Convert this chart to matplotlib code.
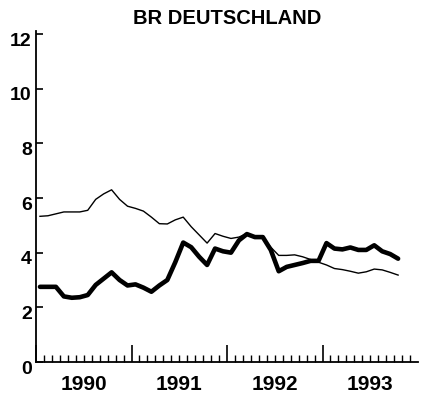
import numpy as np
import matplotlib
matplotlib.use('Agg')
import matplotlib.pyplot as plt
import matplotlib.transforms as mtransforms

# monthly values, Jan 1990 .. Oct 1993
start_year = 1990
years = [1990, 1991, 1992, 1993]
yticks = [0, 2, 4, 6, 8, 10, 12]
title = 'BR DEUTSCHLAND'

thin_series = [5.33, 5.35, 5.42, 5.49, 5.49, 5.49, 5.55, 5.95, 6.15, 6.30, 5.95, 5.70,
               5.62, 5.52, 5.30, 5.06, 5.05, 5.20, 5.30, 4.95, 4.65, 4.35, 4.70, 4.60,
               4.52, 4.57, 4.70, 4.60, 4.55, 4.20, 3.90, 3.90, 3.92, 3.85, 3.75, 3.65,
               3.55, 3.42, 3.38, 3.32, 3.25, 3.30, 3.40, 3.37, 3.28, 3.18]
thick_series = [2.75, 2.75, 2.75, 2.40, 2.35, 2.37, 2.45, 2.82, 3.05, 3.28, 3.00, 2.80,
                2.84, 2.72, 2.57, 2.80, 3.00, 3.65, 4.37, 4.20, 3.85, 3.55, 4.15, 4.05,
                4.00, 4.45, 4.68, 4.57, 4.57, 4.10, 3.32, 3.48, 3.55, 3.62, 3.70, 3.70,
                4.35, 4.15, 4.12, 4.19, 4.10, 4.10, 4.27, 4.05, 3.95, 3.78]

FONT = ['Liberation Sans Narrow', 'Liberation Sans', 'DejaVu Sans']
plt.rcParams['font.family'] = FONT
plt.rcParams['font.weight'] = 'bold'


def main():
    fig = plt.figure(figsize=(4.3, 4.05), dpi=100)
    W, H = 430, 405
    ax = fig.add_axes([36 / W, (H - 362) / H, (418 - 36) / W, (362 - 34) / H])

    x = start_year + (np.arange(len(thin_series)) + 0.5) / 12.0
    ax.plot(x, thin_series, color='black', lw=1.0, solid_joinstyle='round')
    ax.plot(x, thick_series, color='black', lw=3.3, solid_joinstyle='round',
            solid_capstyle='round')

    ax.set_xlim(1990, 1994)
    ax.set_ylim(0, 12)
    for s in ['top', 'right']:
        ax.spines[s].set_visible(False)
    ax.spines['left'].set_bounds(0, 12.1)
    for s in ['left', 'bottom']:
        ax.spines[s].set_linewidth(1.3)

    # x ticks: year boundaries tall, months short, labels at mid year
    ax.set_xticks(years)
    ax.set_xticklabels([])
    ax.set_xticks(np.arange(1990, 1994, 1 / 12.0), minor=True)
    ax.tick_params(axis='x', which='major', direction='in', length=12, width=1.2)
    ax.tick_params(axis='x', which='minor', direction='in', length=5, width=1.0)
    trans = mtransforms.blended_transform_factory(ax.transData, ax.transAxes)
    for yr in years:
        ax.text(yr + 0.5, -23 / 328, str(yr), transform=trans, ha='center',
                va='center', fontsize=15, fontweight='bold', family=FONT)

    ax.set_yticks(yticks)
    ax.set_yticklabels([str(v) for v in yticks], fontsize=14, fontweight='bold')
    ax.tick_params(axis='y', direction='in', length=5, width=1.2, pad=3)
    offset = mtransforms.ScaledTranslation(0, -5 / 100, fig.dpi_scale_trans)
    for lab in ax.get_yticklabels():
        lab.set_transform(lab.get_transform() + offset)

    fig.text((36 + 418) / 2 / W, 1 - 19 / H, title, ha='center', va='center',
             fontsize=14.5, fontweight='bold', family=FONT)

    fig.savefig('out.png', dpi=100)


if __name__ == '__main__':
    main()
